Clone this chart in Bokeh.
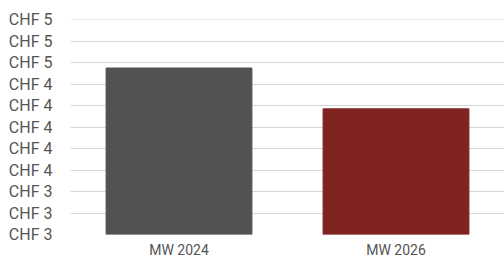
from bokeh.plotting import figure
from bokeh.models import FactorRange, Range1d, FixedTicker, PrintfTickFormatter, ColumnDataSource
from bokeh.embed import file_html
from bokeh.resources import INLINE

categories = ["MW 2024", "MW 2026"]
values = [4.55, 4.17]
colors = ["#525252", "#7f2320"]
y_ticks = [3.0, 3.2, 3.4, 3.6, 3.8, 4.0, 4.2, 4.4, 4.6, 4.8, 5.0]
y_min, y_max = 3.0, 5.0

src = ColumnDataSource(dict(cat=categories, val=values, color=colors))

p = figure(width=504, height=260, output_backend="svg", toolbar_location=None,
           x_range=FactorRange(factors=categories, range_padding=0),
           y_range=Range1d(y_min, y_max + 0.002),
           min_border_left=70, min_border_right=0, min_border_top=19, min_border_bottom=0)

p.vbar(x="cat", top="val", bottom=y_min, width=0.672, color="color", source=src)

p.outline_line_color = None
p.xgrid.grid_line_color = None
p.ygrid.grid_line_color = "#d6d6d6"
p.ygrid.grid_line_width = 1

p.yaxis.ticker = FixedTicker(ticks=y_ticks)
p.yaxis.formatter = PrintfTickFormatter(format="CHF %.0f")
for ax in (p.xaxis, p.yaxis):
    ax.axis_line_color = None
    ax.major_tick_line_color = None
    ax.minor_tick_line_color = None
    ax.major_tick_in = 0
    ax.major_tick_out = 0
    ax.major_label_text_font = "Roboto"
    ax.major_label_text_color = "#555555"
p.yaxis.major_label_text_font_size = "16px"
p.yaxis.major_label_standoff = 18
p.xaxis.major_label_text_font_size = "14px"
p.xaxis.major_label_standoff = 7

open("out.html", "w").write(file_html(p, INLINE))
